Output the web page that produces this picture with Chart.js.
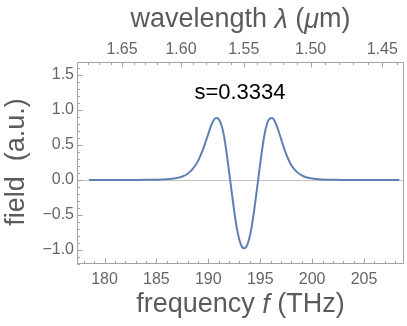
<!DOCTYPE html>
<html>
<head>
<meta charset="utf-8">
<script src="https://cdn.jsdelivr.net/npm/chart.js@4.4.1/dist/chart.umd.min.js"></script>
<style>
  html, body { margin: 0; padding: 0; background: #fff; }
</style>
</head>
<body>
<canvas id="fieldChart" width="407" height="326"></canvas>
<script>
// values
const frequency = [
  178.5, 180, 181.5, 183, 184, 185, 185.5, 186, 186.5, 187, 187.5, 188, 188.5,
  189, 189.25, 189.5, 189.75, 190, 190.25, 190.5, 190.75, 191, 191.25, 191.5,
  191.75, 192, 192.25, 192.5, 192.75, 193, 193.25, 193.45, 193.65, 193.9,
  194.15, 194.4, 194.65, 194.9, 195.15, 195.4, 195.65, 195.9, 196.15, 196.4,
  196.65, 196.9, 197.15, 197.4, 197.7, 198, 198.5, 199, 199.5, 200, 201, 202,
  203, 204.5, 206, 208.4
]
const field = [
  0, 0, 0, 0.001, 0.002, 0.005, 0.008, 0.012, 0.019, 0.03, 0.05, 0.09, 0.16,
  0.27, 0.35, 0.44, 0.55, 0.66, 0.77, 0.85, 0.885, 0.87, 0.79, 0.64,
  0.4, 0.12, -0.17, -0.45, -0.69, -0.86, -0.955, -0.975, -0.955, -0.86,
  -0.69, -0.45, -0.17, 0.12, 0.4, 0.64, 0.8, 0.875, 0.885, 0.84,
  0.75, 0.64, 0.52, 0.41, 0.3, 0.21, 0.12, 0.065, 0.035, 0.02, 0.008, 0.003,
  0.001, 0, 0, 0
]
const freqTicks = [180, 185, 190, 195, 200, 205]
const fieldTicks = [-1.0, -0.5, 0.0, 0.5, 1.0, 1.5]
const wavelengthTicks = [1.65, 1.60, 1.55, 1.50, 1.45]
const annotation = 's=0.3334'

const C_UM_THZ = 299.792458
const FONT = '"Liberation Sans", Arial, sans-serif'
const FRAME = '#a3a3a3'
const TICK_TEXT = '#666666'
const TITLE_TEXT = '#5b5b5b'

function drawMixed(ctx, parts, x, y, size) {
  let total = 0
  parts.forEach(p => {
    ctx.font = (p.italic ? 'italic ' : '') + size + 'px ' + FONT
    total += ctx.measureText(p.text).width
  })
  let cx = x - total / 2
  parts.forEach(p => {
    ctx.font = (p.italic ? 'italic ' : '') + size + 'px ' + FONT
    ctx.fillText(p.text, cx, y)
    cx += ctx.measureText(p.text).width
  })
}

const frameTicks = {
  id: 'frameTicks',
  afterDraw(chart) {
    const ctx = chart.ctx
    const a = chart.chartArea
    const xs = chart.scales.x
    const ys = chart.scales.y
    const l = Math.round(a.left) + 0.5
    const r = Math.round(a.right) - 0.5
    const t = Math.round(a.top) + 0.5
    const b = Math.round(a.bottom) - 0.5
    ctx.save()
    ctx.strokeStyle = FRAME
    ctx.lineWidth = 1
    ctx.strokeRect(l, t, r - l, b - t)

    ctx.beginPath()
    // bottom frequency ticks, every 1 THz
    for (let f = 178; f <= 208; f++) {
      const px = Math.round(xs.getPixelForValue(f)) + 0.5
      const len = f % 5 === 0 ? 5 : 2.5
      ctx.moveTo(px, b); ctx.lineTo(px, b - len)
    }
    // left field ticks, every 0.1
    for (let i = -12; i <= 16; i++) {
      const py = Math.round(ys.getPixelForValue(i / 10)) + 0.5
      const len = i % 5 === 0 ? 5 : 2.5
      ctx.moveTo(l, py); ctx.lineTo(l + len, py)
    }
    // top wavelength ticks, every 0.01 um
    for (let i = 144; i <= 168; i++) {
      const px = Math.round(xs.getPixelForValue(C_UM_THZ / (i / 100))) + 0.5
      const len = i % 5 === 0 ? 5 : 2.5
      ctx.moveTo(px, t); ctx.lineTo(px, t + len)
    }
    ctx.stroke()

    // axis titles
    ctx.fillStyle = TITLE_TEXT
    ctx.textBaseline = 'middle'
    ctx.textAlign = 'left'
    const mid = (a.left + a.right) / 2
    drawMixed(ctx, [
      { text: 'wavelength ' }, { text: '\u03bb', italic: true },
      { text: ' (' }, { text: '\u03bc', italic: true }, { text: 'm)' }
    ], mid, 20, 27)
    drawMixed(ctx, [
      { text: 'frequency ' }, { text: 'f', italic: true }, { text: ' (THz)' }
    ], mid, 305, 27)
    ctx.translate(17, 162)
    ctx.rotate(-Math.PI / 2)
    drawMixed(ctx, [{ text: 'field  (a.u.)' }], 0, 0, 27)
    ctx.restore()

    // annotation inside the plot
    ctx.save()
    ctx.fillStyle = '#000'
    ctx.font = '22px ' + FONT
    ctx.textAlign = 'center'
    ctx.textBaseline = 'middle'
    ctx.fillText(annotation, xs.getPixelForValue(193.05), ys.getPixelForValue(1.25))
    ctx.restore()
  }
}

const ctx = document.getElementById('fieldChart').getContext('2d')
new Chart(ctx, {
  type: 'line',
  data: {
    datasets: [{
      data: frequency.map((f, i) => ({ x: f, y: field[i] })),
      borderColor: '#5e81b5',
      borderWidth: 2,
      pointRadius: 0,
      cubicInterpolationMode: 'monotone',
      fill: false
    }]
  },
  options: {
    responsive: false,
    animation: false,
    devicePixelRatio: 1,
    layout: { padding: { left: 0, right: 3, top: 0, bottom: 0 } },
    plugins: { legend: { display: false }, tooltip: { enabled: false } },
    scales: {
      x: {
        type: 'linear',
        position: 'bottom',
        min: 177.35,
        max: 208.85,
        afterBuildTicks: s => { s.ticks = freqTicks.map(v => ({ value: v })) },
        afterFit: s => { s.height = 62 },
        grid: { display: false },
        border: { display: false },
        ticks: {
          padding: -2,
          color: TICK_TEXT,
          font: { family: FONT, size: 16 },
          maxRotation: 0,
          callback: v => String(v)
        }
      },
      x2: {
        type: 'linear',
        position: 'top',
        min: 177.35,
        max: 208.85,
        afterBuildTicks: s => {
          s.ticks = wavelengthTicks.map(l => ({ value: C_UM_THZ / l }))
        },
        afterFit: s => { s.height = 62 },
        grid: { display: false },
        border: { display: false },
        ticks: {
          padding: -5,
          color: TICK_TEXT,
          font: { family: FONT, size: 16 },
          maxRotation: 0,
          callback: v => (C_UM_THZ / v).toFixed(2)
        }
      },
      y: {
        type: 'linear',
        min: -1.2,
        max: 1.686,
        afterBuildTicks: s => { s.ticks = fieldTicks.map(v => ({ value: v })) },
        afterFit: s => { s.width = 77 },
        grid: {
          drawTicks: false,
          color: c => (c.tick && c.tick.value === 0 ? '#c4c4c4' : 'rgba(0,0,0,0)')
        },
        border: { display: false },
        ticks: {
          padding: 3,
          color: TICK_TEXT,
          font: { family: FONT, size: 16 },
          callback: v => (v < 0 ? '\u2212' : '') + Math.abs(v).toFixed(1)
        }
      }
    }
  },
  plugins: [frameTicks]
})
</script>
</body>
</html>
